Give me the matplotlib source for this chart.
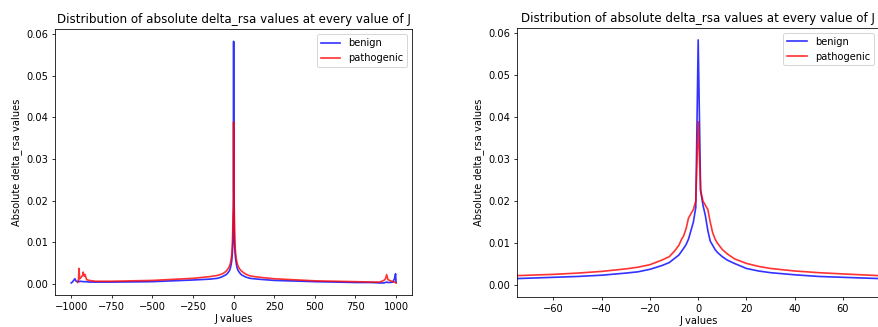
import numpy as np
import matplotlib
matplotlib.use("Agg")
import matplotlib.pyplot as plt

nan = float("nan")

J_values = [-1000, -993, -985, -977, -970, -960, -955, -952, -948, -940, -930, -926, -920, -915,
            -905, -890, -850, -750, -500, -250, -150, -100,
            -75, -60, -50, -40, -30, -25, -20, -15, -12, -10, -8, -7, -6, -5, -4, -3, -2, -1,
            0,
            1, 2, 3, 4, 5, 6, 7, 8, 10, 12, 15, 20, 25, 30, 40, 50, 60, 75,
            100, 150, 250, 500, 750, 850, 900, 925, 935, 942, 950, 960, 980, 990, 997, 1000]

benign = [0.0002, 0.0004, 0.0008, 0.0012, 0.0006, 0.0005, 0.0006, 0.0006, 0.0005, 0.0006, 0.0005,
          0.0005, 0.0005, 0.0005, 0.0005, 0.0004, 0.0004, 0.0004, 0.0005, 0.0009, 0.0011, 0.0013,
          0.0016, 0.0019, 0.0021, 0.0024, 0.0029, 0.0032, 0.0038, 0.0047, 0.0054, 0.0063, 0.0072,
          0.0080, 0.0088, 0.0097, 0.0110, 0.0130, 0.0150, 0.0185,
          0.0583,
          0.0225, 0.0190, 0.0165, 0.0130, 0.0105, 0.0095, 0.0085, 0.0078, 0.0068, 0.0060, 0.0052,
          0.0040, 0.0034, 0.0030, 0.0025, 0.0021, 0.0019, 0.0016,
          0.0013, 0.0011, 0.0008, 0.0005, 0.0003, 0.0003, 0.0002, 0.0002, 0.0003, 0.0004, 0.0003,
          0.0003, 0.0004, 0.0012, 0.0024, 0.0003]

pathogenic = [nan, nan, nan, nan, nan, 0.0003, 0.0010, 0.0037, 0.0012, 0.0015, 0.0020,
              0.0028, 0.0018, 0.0022, 0.0010, 0.0008, 0.0006, 0.0006, 0.0008, 0.0013, 0.0017, 0.0020,
              0.0023, 0.0026, 0.0029, 0.0033, 0.0039, 0.0043, 0.0049, 0.0060, 0.0068, 0.0080, 0.0095,
              0.0108, 0.0118, 0.0135, 0.0160, 0.0170, 0.0180, 0.0200,
              0.0389,
              0.0225, 0.0200, 0.0190, 0.0180, 0.0150, 0.0125, 0.0110, 0.0100, 0.0085, 0.0075, 0.0063,
              0.0052, 0.0045, 0.0040, 0.0034, 0.0030, 0.0027, 0.0023,
              0.0019, 0.0016, 0.0012, 0.0007, 0.0005, 0.0004, 0.0004, 0.0008, 0.0012, 0.0022, 0.0010,
              0.0008, 0.0005, 0.0004, 0.0003, 0.0002]

title = "Distribution of absolute delta_rsa values at every value of J"

DPI = 71
fig = plt.figure(figsize=(878 / DPI, 327 / DPI), dpi=DPI)
ax1 = fig.add_axes([0.0626, 0.0979, 0.4070, 0.8125])
ax2 = fig.add_axes([0.5892, 0.0927, 0.4120, 0.8226])

for ax in (ax1, ax2):
    ax.plot(J_values, benign, color="blue", alpha=0.8, lw=1.7, label="benign")
    ax.plot(J_values, pathogenic, color="red", alpha=0.8, lw=1.7, label="pathogenic")
    ax.set_title(title)
    ax.set_xlabel("J values", labelpad=2)
    ax.set_ylabel("Absolute delta_rsa values")
    ax.legend(loc="upper right")

ax2.set_xlim(-75, 75)

fig.savefig("out.png", dpi=DPI)
